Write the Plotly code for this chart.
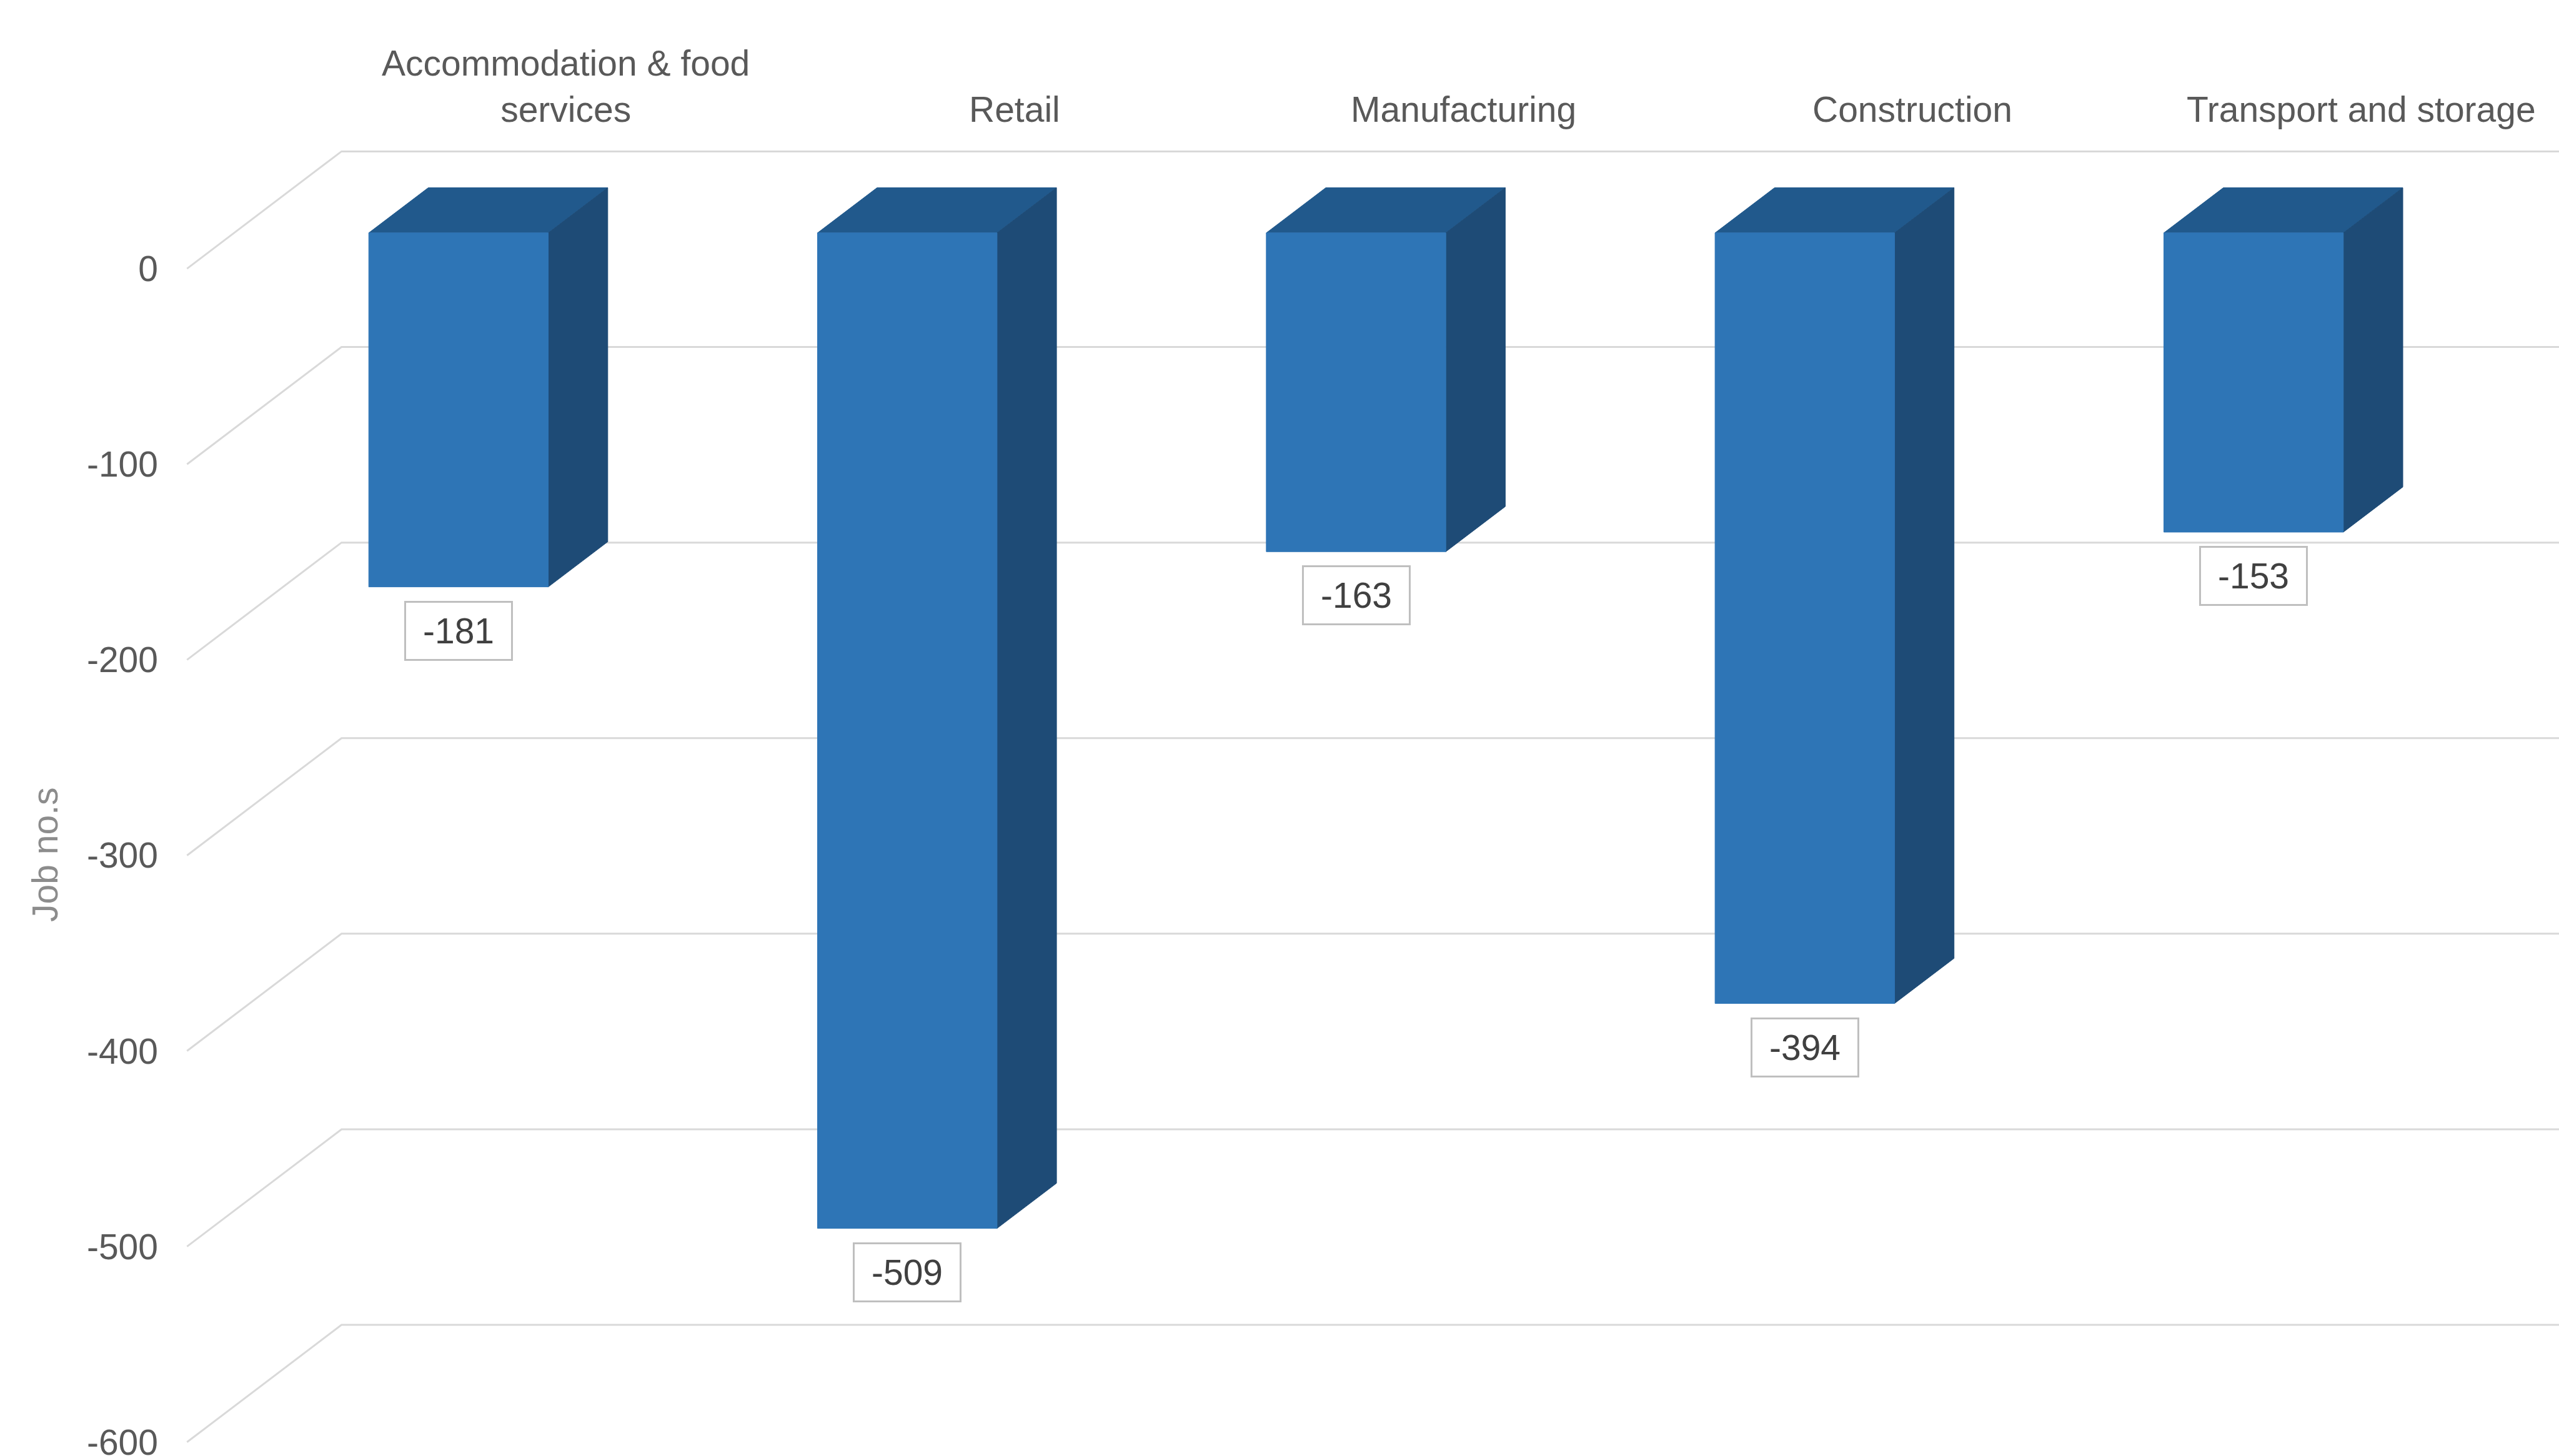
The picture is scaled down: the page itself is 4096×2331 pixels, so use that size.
import plotly.graph_objects as go

# ---- data ----
categories = ["Accommodation & food<br>services", "Retail", "Manufacturing", "Construction", "Transport and storage"]
values = [-181, -509, -163, -394, -153]
tick_values = [0, -100, -200, -300, -400, -500, -600]
tick_labels = ["0", "-100", "-200", "-300", "-400", "-500", "-600"]
axis_title = "Job no.s"

# ---- pseudo-3D projection (axis units) ----
DEPTH_X = 0.3443   # category units from front plane to back wall
DEPTH_Y = 59.95    # value units from front plane to back wall
FRONT = 0.305      # depth fraction of bar front face
BACK = 0.69        # depth fraction of bar back face
HALF_W = 0.2

W, H = 4096, 2331
ML = 280
x_range = [-0.5269, 4.7856]
y_range = [-607.1, 137.37]

FONT = "Liberation Sans, Arial, sans-serif"
C_FRONT = "#2E75B6"
C_TOP = "#21598C"
C_SIDE = "#1E4B76"
C_GRID = "#d9d9d9"

fig = go.Figure()

# back wall gridlines with side-wall diagonals
for t in tick_values:
    fig.add_trace(go.Scatter(
        x=[-0.5, -0.5 + DEPTH_X, 6.0], y=[t, t + DEPTH_Y, t + DEPTH_Y],
        mode="lines", line=dict(color=C_GRID, width=3),
        hoverinfo="skip", showlegend=False))


def poly(xs, ys, color):
    fig.add_trace(go.Scatter(
        x=xs, y=ys, mode="lines", fill="toself", fillcolor=color,
        line=dict(color=color, width=1), hoverinfo="skip", showlegend=False))


for i, v in enumerate(values):
    fx0 = i + FRONT * DEPTH_X - HALF_W
    fx1 = i + FRONT * DEPTH_X + HALF_W
    fy = FRONT * DEPTH_Y
    bx0 = i + BACK * DEPTH_X - HALF_W
    bx1 = i + BACK * DEPTH_X + HALF_W
    by = BACK * DEPTH_Y
    poly([fx0, fx1, bx1, bx0, fx0], [fy, fy, by, by, fy], C_TOP)
    poly([fx1, bx1, bx1, fx1, fx1], [fy, by, v + by, v + fy, fy], C_SIDE)
    poly([fx0, fx1, fx1, fx0, fx0], [fy, fy, v + fy, v + fy, fy], C_FRONT)

annotations = []
for i, v in enumerate(values):
    annotations.append(dict(
        x=i + FRONT * DEPTH_X, y=v + FRONT * DEPTH_Y, xref="x", yref="y",
        text=str(v), showarrow=False, xanchor="center", yanchor="top", yshift=-22,
        font=dict(family=FONT, size=57, color="#404040"),
        bgcolor="white", bordercolor="#bfbfbf", borderwidth=3, borderpad=0,
        width=168, height=90))

for i, c in enumerate(categories):
    annotations.append(dict(
        x=i + DEPTH_X, y=70.6, xref="x", yref="y", text=c, showarrow=False,
        xanchor="center", yanchor="bottom",
        font=dict(family=FONT, size=57, color="#595959")))

annotations.append(dict(
    x=(72 - ML) / (W - ML), y=1 - 1369 / H, xref="paper", yref="paper",
    text=axis_title, textangle=-90, showarrow=False, xanchor="center", yanchor="middle",
    font=dict(family=FONT, size=57, color="#8c8c8c")))

fig.update_layout(
    width=W, height=H,
    margin=dict(l=ML, r=0, t=0, b=0, pad=0, autoexpand=False),
    paper_bgcolor="white", plot_bgcolor="white",
    showlegend=False,
    annotations=annotations,
    xaxis=dict(range=x_range, showgrid=False, zeroline=False, showticklabels=False,
               showline=False, ticks="", fixedrange=True, automargin=False),
    yaxis=dict(range=y_range, showgrid=False, zeroline=False, showline=False,
               tickvals=tick_values, ticktext=tick_labels, ticks="",
               ticklabelstandoff=26, ticklabeloverflow="allow", automargin=False,
               tickfont=dict(family=FONT, size=57, color="#595959"), fixedrange=True),
)

fig.write_html("out.html")
